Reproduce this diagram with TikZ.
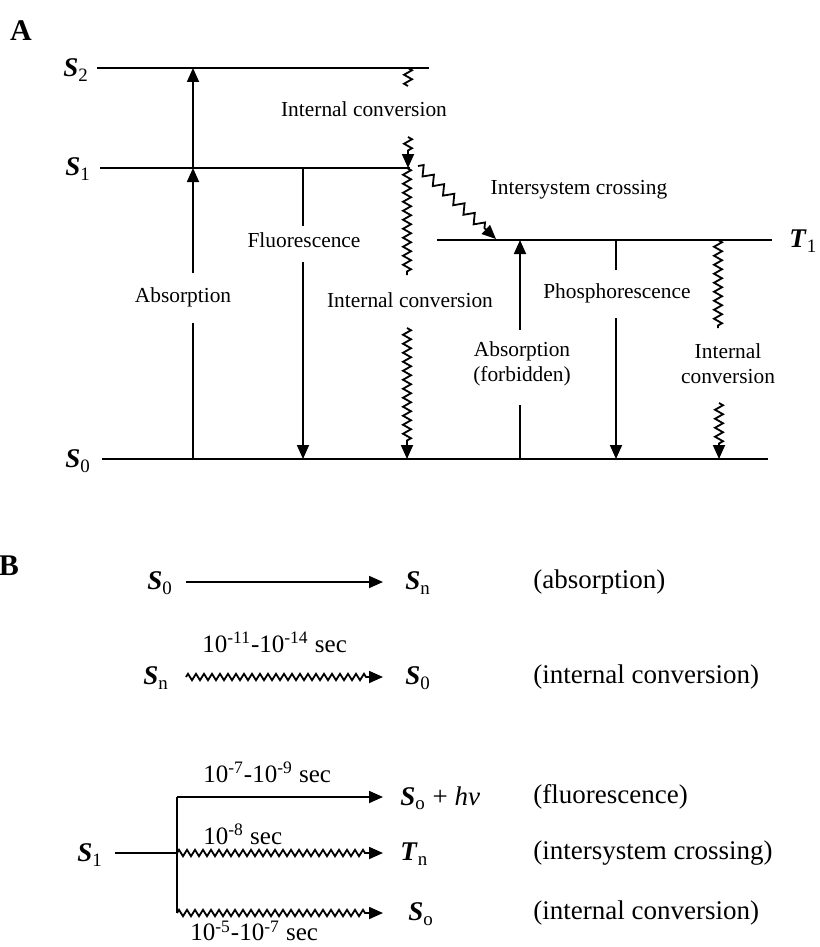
\documentclass[tikz,border=0pt]{standalone}
\usepackage{fontspec}
\setmainfont{Liberation Serif}
\usetikzlibrary{arrows.meta}
\usetikzlibrary{calc}
\usetikzlibrary{positioning}
\usetikzlibrary{decorations.pathmorphing}

\newcommand{\lev}[2]{\textbf{\textit{#1}}\textsubscript{#2}}
\newcommand{\expo}[1]{10\textsuperscript{#1}}

\begin{document}
\begin{tikzpicture}[x=0.5pt, y=-0.5pt,
    energy/.style={line width=1.2pt},
    trans/.style={line width=0.9pt},
    arr/.style={-{Triangle[length=7pt, width=6pt]}},
    wavy/.style={trans, decorate, decoration={zigzag, amplitude=2pt,
        segment length=4.5pt, post length=#1}},
    wavy/.default=0pt,
    iscwavy/.style={trans, arr, decorate, decoration={zigzag, amplitude=2.3pt,
        segment length=7pt, post length=7.5pt}},
    bwavy/.style={trans, arr, decorate, decoration={zigzag, amplitude=1.6pt,
        segment length=4pt, post length=7.5pt}},
    lab/.style={font=\fontsize{10.7}{12.5}\selectfont, align=center, inner sep=0pt},
    lvlab/.style={font=\fontsize{13.5}{15}\selectfont, anchor=west, inner sep=0pt},
    blab/.style={font=\fontsize{13.5}{16}\selectfont, anchor=west, inner sep=0pt},
    rate/.style={font=\fontsize{12.5}{15}\selectfont, anchor=west, inner sep=0pt},
    panel/.style={font=\fontsize{15}{17}\selectfont\bfseries, inner sep=0pt}]

  \useasboundingbox (0,0) rectangle (819,947);

  % panel A: energy levels
  \node[panel] (pA) at (21,31) {A};
  \foreach \n/\x/\y in {S2l/97/68, S2r/429/68, S1l/100/168, S1r/410/168,
      T1l/437/240, T1r/772/240, S0l/102/459, S0r/768/459}
    \coordinate (\n) at (\x,\y);
  \draw[energy] (S2l) -- (S2r);
  \draw[energy] (S1l) -- (S1r);
  \draw[energy] (T1l) -- (T1r);
  \draw[energy] (S0l) -- (S0r);
  \node[lvlab] (S2) at (63,70) {\lev{S}{2}};
  \node[lvlab] (S1) at (65,169) {\lev{S}{1}};
  \node[lvlab] (S0) at (65,461) {\lev{S}{0}};
  \node[lvlab] (T1) at (789,241) {\lev{T}{1}};

  % transition end points
  \foreach \n/\x/\y in {ab1/193/459, ab2/193/323, ab3/193/273, ab4/193/168, ab5/193/68,
      fl1/303/168, fl2/303/226, fl3/303/262, fl4/303/459,
      it1/408/68, it2/408/86, it3/408/137, it4/408/168,
      im1/407/168, im2/407/275, im3/407/328, im4/407/459,
      is1/418/166, is2/496/239,
      af1/520/459, af2/520/405, af3/520/330, af4/520/240,
      ph1/616/240, ph2/616/270, ph3/616/318, ph4/616/459,
      ir1/718/240, ir2/718/328, ir3/719/403, ir4/719/459}
    \coordinate (\n) at (\x,\y);

  % radiative transitions
  \draw[trans] (ab1) -- (ab2);
  \draw[trans, arr] (ab3) -- (ab4);
  \draw[trans, arr] (ab4) -- (ab5);
  \draw[trans] (fl1) -- (fl2);
  \draw[trans, arr] (fl3) -- (fl4);
  \draw[trans] (af1) -- (af2);
  \draw[trans, arr] (af3) -- (af4);
  \draw[trans] (ph1) -- (ph2);
  \draw[trans, arr] (ph3) -- (ph4);

  % radiationless transitions
  \draw[wavy] (it1) -- (it2);
  \draw[wavy=7.5pt, arr] (it3) -- (it4);
  \draw[wavy] (im1) -- (im2);
  \draw[wavy=7.5pt, arr] (im3) -- (im4);
  \draw[iscwavy] (is1) -- (is2);
  \draw[wavy] (ir1) -- (ir2);
  \draw[wavy=7.5pt, arr] (ir3) -- (ir4);

  % labels
  \node[lab] (absA) at (183,297) {Absorption};
  \node[lab] (fluo) at (304,240) {Fluorescence};
  \node[lab] (icTop) at (364,109) {Internal conversion};
  \node[lab] (icMid) at (410,300) {Internal conversion};
  \node[lab] (isc) at (579,190) {Intersystem crossing};
  \node[lab] (phos) at (617,293) {Phosphorescence};
  \node[lab] (absF) at (522,364) {Absorption\\(forbidden)};
  \node[lab] (icT) at (728,364) {Internal\\conversion};

  % panel B: rate schemes
  \node[panel] (pB) at (9,566) {B};
  \node[blab] (S0b) at (147,583) {\lev{S}{0}};
  \node[blab] (Snb) at (405,583) {\lev{S}{n}};
  \node[blab] (Snc) at (143,678) {\lev{S}{n}};
  \node[blab] (S0c) at (405,678) {\lev{S}{0}};
  \node[blab] (S1b) at (77,855) {\lev{S}{1}};
  \node[blab] (Sfl) at (400,798) {\lev{S}{o} + \textit{hv}};
  \node[blab] (Tnb) at (400,854) {\lev{T}{n}};
  \node[blab] (Sic) at (408,914) {\lev{S}{o}};

  \node[blab] (pAbs) at (533,582) {(absorption)};
  \node[blab] (pIc1) at (533,677) {(internal conversion)};
  \node[blab] (pFl) at (533,797) {(fluorescence)};
  \node[blab] (pIsc) at (533,853) {(intersystem crossing)};
  \node[blab] (pIc2) at (533,913) {(internal conversion)};

  \node[rate] (r1) at (202,642) {\expo{-11}-\expo{-14} sec};
  \node[rate] (r2) at (203,772) {\expo{-7}-\expo{-9} sec};
  \node[rate] (r3) at (203,834) {\expo{-8} sec};
  \node[rate] (r4) at (190,931) {\expo{-5}-\expo{-7} sec};

  \foreach \n/\x/\y in {b1/186/582, b2/383/582, b3/186/677, b4/383/677,
      f0/115/853, fT/177/797, fM/177/853, fB/177/913,
      e1/383/797, e2/383/853, e3/383/913}
    \coordinate (\n) at (\x,\y);

  \draw[trans, arr] (b1) -- (b2);
  \draw[bwavy] (b3) -- (b4);
  \draw[trans] (f0) -- (fM);
  \draw[trans] (fT) -- (fB);
  \draw[trans, arr] (fT) -- (e1);
  \draw[bwavy] (fM) -- (e2);
  \draw[bwavy] (fB) -- (e3);

\end{tikzpicture}
\end{document}
